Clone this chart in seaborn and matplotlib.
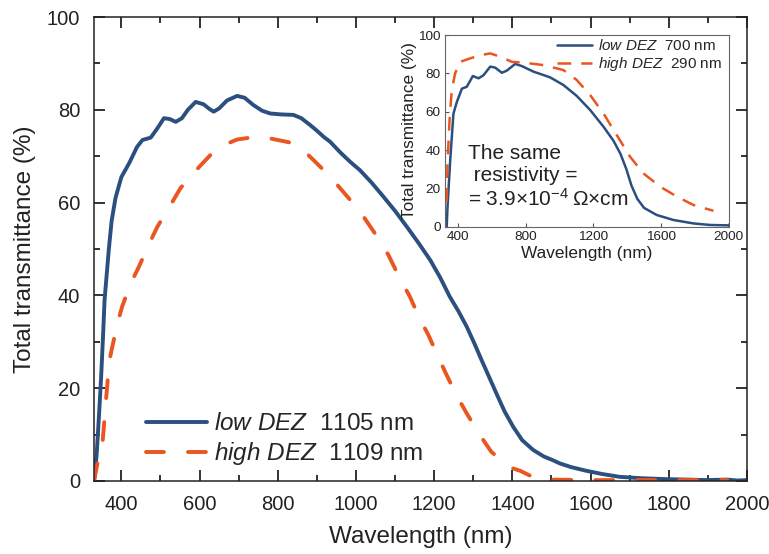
import matplotlib
matplotlib.use('Agg')
import matplotlib.pyplot as plt
from matplotlib.ticker import MultipleLocator
import seaborn as sns

INK = '#222222'
sns.set_theme(style='ticks')
plt.rcParams['font.family'] = ['Liberation Sans', 'DejaVu Sans']
plt.rcParams['mathtext.fontset'] = 'custom'
plt.rcParams['mathtext.rm'] = 'Liberation Sans'
plt.rcParams['mathtext.it'] = 'Liberation Sans:italic'

BLUE = '#2b4f7e'
ORANGE = '#ea5520'

# main plot: low DEZ (1105 nm) and high DEZ (1109 nm)
wl_low = [330, 333, 337, 342, 348, 353, 357, 362, 368, 375, 385, 400, 420, 440, 454, 475,
          492, 509, 524, 539, 555, 570, 590, 610, 625, 636, 650, 670, 696, 715, 738,
          760, 781, 810, 840, 860, 883, 900, 917, 934, 960, 985, 1010, 1040, 1070,
          1100, 1130, 1160, 1190, 1215, 1240, 1262, 1283, 1302, 1321, 1340, 1359,
          1380, 1402, 1425, 1453, 1480, 1503, 1521, 1550, 1589, 1630, 1674, 1730,
          1793, 1850, 1895, 1950, 1975, 2000]
t_low = [0, 2, 6, 13, 22, 31, 39, 44, 50, 56, 61, 65.5, 68.5, 72, 73.5, 74,
         76, 78.2, 78, 77.4, 78.2, 80, 81.7, 81.2, 80.2, 79.6, 80.3, 82, 83, 82.6, 81,
         79.8, 79.2, 79, 78.9, 78.2, 76.7, 75.5, 74.2, 73.1, 70.8, 68.8, 67, 64.3, 61.3,
         58.2, 54.8, 51.3, 47.6, 43.9, 39.7, 36.6, 33.3, 29.8, 26.1, 22.5, 18.9,
         15, 11.7, 8.8, 6.7, 5.3, 4.5, 3.8, 3, 2.2, 1.5, 0.9, 0.6,
         0.4, 0.3, 0.2, 0.3, 0.1, 0.2]

wl_high = [330, 339, 352, 356, 360, 364, 368, 377, 390, 402, 424, 445, 470, 492, 526,
           551, 575, 598, 636, 665, 696, 738, 770, 794, 840, 865, 891, 934, 985, 1019,
           1057, 1083, 1112, 1138, 1163, 1185, 1210, 1232, 1257, 1283, 1317, 1346,
           1375, 1402, 1420, 1444, 1470, 1500, 1600, 1700, 1800, 1900, 1950]
t_high = [0, 3.9, 8.5, 12.5, 16.8, 20.7, 25.4, 29, 34, 37.6, 42.6, 46.2, 50.9, 54.8, 59.5,
          63.1, 65.5, 67.6, 71, 72.5, 73.6, 74.1, 74, 73.6, 72.8, 71.3, 69.2, 65.6, 60.6, 57,
          52.3, 48.7, 43.7, 39.7, 35, 31.5, 26.8, 22.8, 18.5, 14.6, 9.9, 6.3,
          4.2, 2.7, 2.2, 1.2, 0.6, 0.3, 0.2, 0.2, 0.2, 0.2, 0.2]

# inset: low DEZ (700 nm) and high DEZ (290 nm)
wl_low_in = [330, 335, 351, 370, 390, 420, 449, 485, 519, 548, 588, 617, 657, 686, 736,
             775, 844, 884, 943, 1022, 1101, 1180, 1259, 1318, 1360, 1395, 1425, 1460,
             1500, 1575, 1674, 1793, 1891, 2000]
t_low_in = [0, 10.4, 34.8, 59, 65, 72, 73, 78.6, 77.4, 79, 83.5, 83, 80.3, 81.4, 84.9,
            83.8, 80.9, 79.7, 77.9, 73.9, 68.2, 60.9, 52.2, 44.9, 38, 30, 21.5, 14.5,
            9.8, 6.1, 3.5, 1.7, 0.9, 0.7]

wl_high_in = [330, 335, 347, 360, 380, 410, 469, 538, 588, 647, 716, 785, 904, 1022,
              1101, 1180, 1259, 1338, 1417, 1496, 1595, 1694, 1793, 1911]
t_high_in = [13, 33, 55.7, 71.3, 80, 86, 87.8, 89.6, 90.4, 88.7, 86, 85.6, 84.3, 81.7,
             76.5, 68.7, 59.1, 47.8, 36.5, 27.8, 20.9, 15.7, 11.3, 8.3]

fig = plt.figure(figsize=(7.69, 5.54), dpi=100)
ax = fig.add_axes([94 / 769, 1 - 481 / 554, 653 / 769, 464 / 554])

sns.lineplot(x=wl_low, y=t_low, ax=ax, color=BLUE, lw=2.8,
             label=r'$\mathit{low\ DEZ}$  1105 nm')
sns.lineplot(x=wl_high, y=t_high, ax=ax, color=ORANGE, lw=2.8,
             linestyle=(0, (4.6, 6.2)), dash_capstyle='round',
             label=r'$\mathit{high\ DEZ}$  1109 nm')

ax.set_xlim(330, 2000)
ax.set_ylim(0, 100)
ax.xaxis.set_major_locator(MultipleLocator(200))
ax.xaxis.set_minor_locator(MultipleLocator(100))
ax.yaxis.set_major_locator(MultipleLocator(20))
ax.yaxis.set_minor_locator(MultipleLocator(10))
ax.tick_params(which='both', direction='in', top=True, right=True, color='#333333',
               length=8, width=1.4)
ax.tick_params(which='minor', length=4.5)
ax.tick_params(which='major', labelsize=14.5, labelcolor=INK, pad=10)
for s in ax.spines.values():
    s.set_color(INK)
    s.set_linewidth(1.1)
ax.set_xlabel('Wavelength (nm)', fontsize=17.5, color=INK, labelpad=9)
ax.set_ylabel('Total transmittance (%)', fontsize=17.5, color=INK, labelpad=8)
ax.legend(loc='lower left', bbox_to_anchor=(0.08, 0.03), frameon=False,
          fontsize=17.5, handlelength=2.5, handletextpad=0.3, labelspacing=0.2,
          borderpad=0, borderaxespad=0)

# inset
axi = fig.add_axes([445 / 769, 1 - 226.7 / 554, 284.3 / 769, 191.7 / 554])
sns.lineplot(x=wl_low_in, y=t_low_in, ax=axi, color=BLUE, lw=1.8,
             label=r'$\mathit{low\ DEZ}$  700 nm')
sns.lineplot(x=wl_high_in, y=t_high_in, ax=axi, color=ORANGE, lw=1.8,
             linestyle=(0, (5.5, 4)),
             label=r'$\mathit{high\ DEZ}$  290 nm')
axi.set_xlim(320, 2005)
axi.set_ylim(0, 100)
axi.xaxis.set_major_locator(MultipleLocator(400))
axi.yaxis.set_major_locator(MultipleLocator(20))
axi.tick_params(which='major', direction='in', length=3, width=0.8,
                color='#555555', labelsize=9.7, labelcolor=INK, pad=3)
for s in axi.spines.values():
    s.set_color('#666666')
    s.set_linewidth(0.8)
axi.set_xlabel('Wavelength (nm)', fontsize=12.4, color=INK, labelpad=2)
axi.set_ylabel('Total transmittance (%)', fontsize=12.4, color=INK, labelpad=1)
axi.legend(loc='upper right', bbox_to_anchor=(0.975, 0.985), frameon=False,
           fontsize=11, handlelength=2.3, handletextpad=0.4, labelspacing=0.15,
           borderpad=0, borderaxespad=0)
axi.text(0.081, 0.259, 'The same\n resistivity =\n= 3.9\u00d710$^{\\mathregular{-4}}$\u2009\u03a9\u00d7cm',
         transform=axi.transAxes, ha='left', va='center', fontsize=15, color=INK)

fig.savefig('out.png', dpi=100)
